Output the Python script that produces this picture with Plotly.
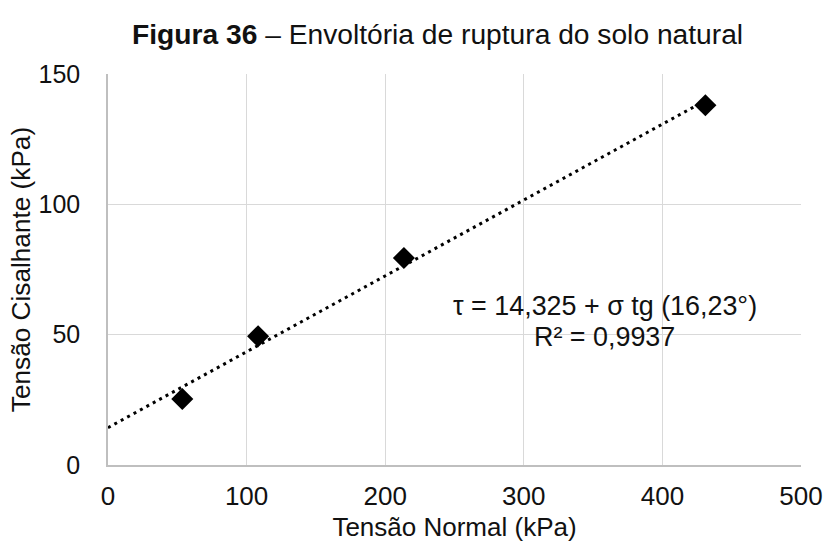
import numpy as np
import plotly.graph_objects as go

# Data
sigma = [53.6, 108.3, 213.5, 431.0]   # Tensão Normal (kPa)
tau = [25.3, 49.4, 79.4, 138.0]       # Tensão Cisalhante (kPa)
intercept = 14.325
angle_deg = 16.23
x_ticks = [0, 100, 200, 300, 400, 500]
y_ticks = [0, 50, 100, 150]
eq_lines = ["τ = 14,325 + σ tg (16,23°)", "R² = 0,9937"]

slope = np.tan(np.radians(angle_deg))
trend_x = [0, max(sigma)]
trend_y = [intercept + slope * v for v in trend_x]

FONT = "Liberation Sans, Arial, sans-serif"
TXT = "#111111"

fig = go.Figure()
fig.add_trace(go.Scatter(
    x=trend_x, y=trend_y, mode="lines",
    line=dict(color="black", width=3, dash="3px,4.3px"),
    hoverinfo="skip", showlegend=False))
fig.add_trace(go.Scatter(
    x=sigma, y=tau, mode="markers",
    marker=dict(symbol="diamond", size=17, color="black"),
    showlegend=False))

for txt, yv in zip(eq_lines, [61.0, 49.2]):
    fig.add_annotation(
        x=358.5, y=yv, xref="x", yref="y", showarrow=False,
        xanchor="center", yanchor="middle", text=txt,
        font=dict(family=FONT, size=26.9, color=TXT))

fig.add_annotation(
    x=(437 - 108) / 693, y=(465 - 33) / 392, xref="paper", yref="paper",
    showarrow=False, xanchor="center", yanchor="middle",
    text="<b>Figura 36</b> – Envoltória de ruptura do solo natural",
    font=dict(family=FONT, size=28.2, color=TXT))

fig.update_layout(
    width=826, height=547,
    margin=dict(l=108, r=25, t=74, b=82, autoexpand=False),
    paper_bgcolor="white", plot_bgcolor="white",
    font=dict(family=FONT, size=26, color=TXT),
)

fig.update_xaxes(
    range=[0, 500], tickvals=x_ticks, ticktext=[str(v) for v in x_ticks],
    showgrid=True, gridcolor="#d9d9d9", gridwidth=1.3,
    showline=True, linecolor="#bfbfbf", linewidth=1.5,
    zeroline=False, ticks="", ticklabelstandoff=7, automargin=False,
    tickfont=dict(family=FONT, size=26, color=TXT),
    title=dict(text="Tensão Normal (kPa)", standoff=8,
               font=dict(family=FONT, size=26, color=TXT)))
fig.update_yaxes(
    range=[0, 150], tickvals=y_ticks, ticktext=[str(v) for v in y_ticks],
    showgrid=True, gridcolor="#d9d9d9", gridwidth=1.3,
    showline=True, linecolor="#bfbfbf", linewidth=1.5,
    zeroline=False, ticks="", ticklabelstandoff=21, automargin=False,
    tickfont=dict(family=FONT, size=25, color=TXT),
    title=dict(text="Tensão Cisalhante (kPa)", standoff=0,
               font=dict(family=FONT, size=26.2, color=TXT)))

fig.write_html("out.html")
